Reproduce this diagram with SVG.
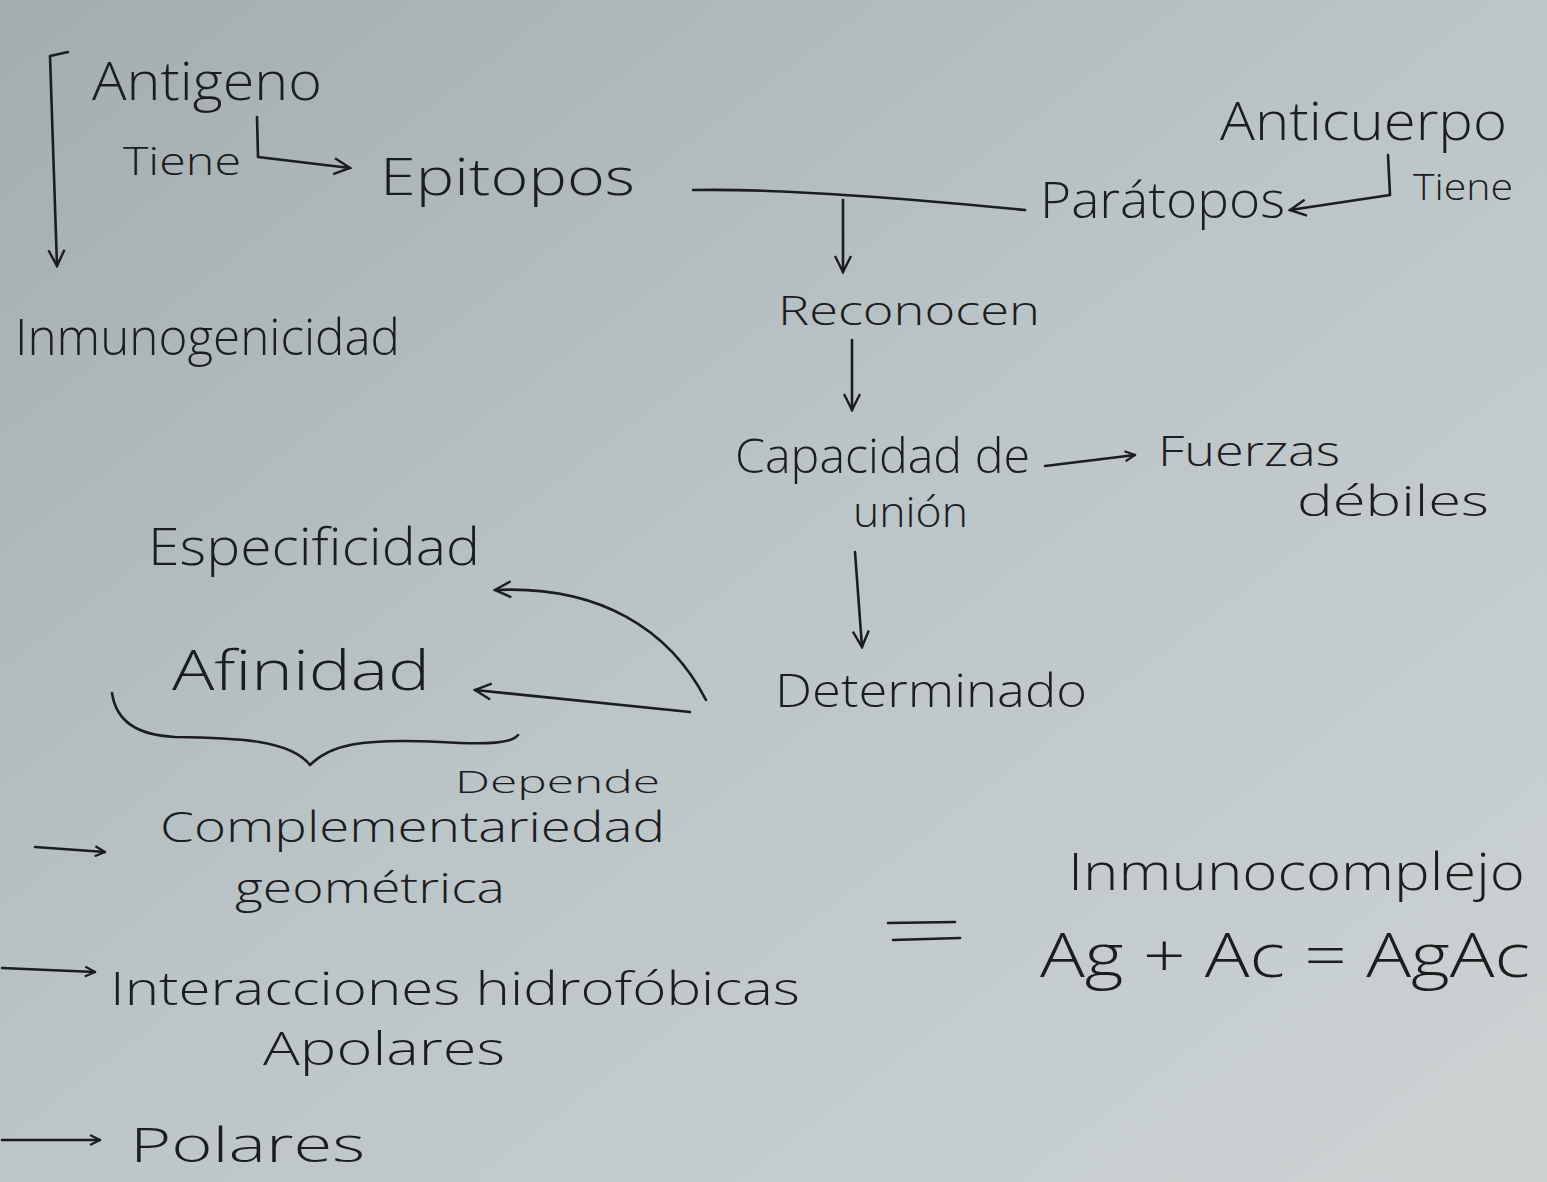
<svg xmlns="http://www.w3.org/2000/svg" width="1547" height="1182" viewBox="0 0 1547 1182">
<defs>
<linearGradient id="bg" x1="0" y1="0" x2="1" y2="1">
<stop offset="0" stop-color="#a3adb0"/>
<stop offset="0.5" stop-color="#bcc5c7"/>
<stop offset="1" stop-color="#cdd3d3"/>
</linearGradient>
<marker id="ah" viewBox="0 0 12 12" refX="11" refY="6" markerWidth="12" markerHeight="12" markerUnits="userSpaceOnUse" orient="auto">
<path d="M1,1 L11,6 L1,11" fill="none" stroke="#1c1d1f" stroke-width="2.2"/>
</marker>
<marker id="ahb" viewBox="0 0 20 20" refX="18" refY="10" markerWidth="20" markerHeight="20" markerUnits="userSpaceOnUse" orient="auto">
<path d="M2,2 L18,10 L2,18" fill="none" stroke="#1c1d1f" stroke-width="2.4"/>
</marker>
</defs>
<style>
text{font-family:"Open Sans","Liberation Sans",sans-serif;fill:#1c1d1f;font-weight:300}
.c{fill:none;stroke:#1c1d1f;stroke-width:2.6;stroke-linecap:round;stroke-linejoin:round}
</style>
<rect width="1547" height="1182" fill="url(#bg)"/>
<g id="connectors">
<path class="c" d="M68,52 L50,56 L57,266" marker-end="url(#ahb)"/>
<path class="c" d="M257,117 L258,157 L350,168" marker-end="url(#ahb)"/>
<path class="c" d="M1388,155 L1390,195 L1290,210" marker-end="url(#ahb)"/>
<path class="c" d="M693,190 Q800,188 1025,210"/>
<path class="c" d="M843,200 L843,272" marker-end="url(#ahb)"/>
<path class="c" d="M852,340 L852,410" marker-end="url(#ahb)"/>
<path class="c" d="M1045,466 L1135,455" marker-end="url(#ah)"/>
<path class="c" d="M855,552 L862,647" marker-end="url(#ahb)"/>
<path class="c" d="M706,700 C670,630 600,585 495,590" marker-end="url(#ahb)"/>
<path class="c" d="M690,712 L475,690" marker-end="url(#ahb)"/>
<path class="c" d="M112,693 C116,720 135,735 175,737 C240,738 290,740 310,765 C330,745 360,738 440,742 C490,745 512,743 518,735"/>
<path class="c" d="M35,847 L105,852" marker-end="url(#ah)"/>
<path class="c" d="M2,968 L95,972" marker-end="url(#ah)"/>
<path class="c" d="M2,1140 L100,1140" marker-end="url(#ah)"/>
<path class="c" d="M888,923 L955,922 M893,940 L960,938"/>
</g>
<g id="n-antigeno"><text x="92" y="100" font-size="54" textLength="230" lengthAdjust="spacingAndGlyphs">Antigeno</text></g>
<g id="n-tiene1"><text x="123" y="175" font-size="38" textLength="118" lengthAdjust="spacingAndGlyphs">Tiene</text></g>
<g id="n-epitopos"><text x="380" y="195" font-size="52" textLength="255" lengthAdjust="spacingAndGlyphs">Epitopos</text></g>
<g id="n-inmunogenicidad"><text x="15" y="355" font-size="50" textLength="385" lengthAdjust="spacingAndGlyphs">Inmunogenicidad</text></g>
<g id="n-anticuerpo"><text x="1220" y="140" font-size="54" textLength="287" lengthAdjust="spacingAndGlyphs">Anticuerpo</text></g>
<g id="n-tiene2"><text x="1413" y="200" font-size="36" textLength="100" lengthAdjust="spacingAndGlyphs">Tiene</text></g>
<g id="n-paratopos"><text x="1040" y="218" font-size="50" textLength="245" lengthAdjust="spacingAndGlyphs">Parátopos</text></g>
<g id="n-reconocen"><text x="778" y="325" font-size="40" textLength="262" lengthAdjust="spacingAndGlyphs">Reconocen</text></g>
<g id="n-capacidad"><text x="735" y="473" font-size="48" textLength="295" lengthAdjust="spacingAndGlyphs">Capacidad de</text><text x="853" y="527" font-size="42" textLength="115" lengthAdjust="spacingAndGlyphs">unión</text></g>
<g id="n-fuerzas"><text x="1158" y="466" font-size="42" textLength="182" lengthAdjust="spacingAndGlyphs">Fuerzas</text><text x="1297" y="516" font-size="42" textLength="192" lengthAdjust="spacingAndGlyphs">débiles</text></g>
<g id="n-determinado"><text x="775" y="707" font-size="46" textLength="312" lengthAdjust="spacingAndGlyphs">Determinado</text></g>
<g id="n-especificidad"><text x="148" y="565" font-size="52" textLength="332" lengthAdjust="spacingAndGlyphs">Especificidad</text></g>
<g id="n-afinidad"><text x="172" y="690" font-size="56" textLength="258" lengthAdjust="spacingAndGlyphs">Afinidad</text></g>
<g id="n-depende"><text x="455" y="793" font-size="32" textLength="205" lengthAdjust="spacingAndGlyphs">Depende</text></g>
<g id="n-complementariedad"><text x="160" y="842" font-size="42" textLength="505" lengthAdjust="spacingAndGlyphs">Complementariedad</text><text x="235" y="903" font-size="42" textLength="270" lengthAdjust="spacingAndGlyphs">geométrica</text></g>
<g id="n-interacciones"><text x="110" y="1005" font-size="46" textLength="690" lengthAdjust="spacingAndGlyphs">Interacciones hidrofóbicas</text></g>
<g id="n-apolares"><text x="263" y="1065" font-size="46" textLength="242" lengthAdjust="spacingAndGlyphs">Apolares</text></g>
<g id="n-polares"><text x="130" y="1162" font-size="48" textLength="235" lengthAdjust="spacingAndGlyphs">Polares</text></g>
<g id="n-inmunocomplejo"><text x="1068" y="890" font-size="52" textLength="457" lengthAdjust="spacingAndGlyphs">Inmunocomplejo</text></g>
<g id="n-formula"><text x="1040" y="977" font-size="60" textLength="490" lengthAdjust="spacingAndGlyphs">Ag + Ac = AgAc</text></g>
</svg>
